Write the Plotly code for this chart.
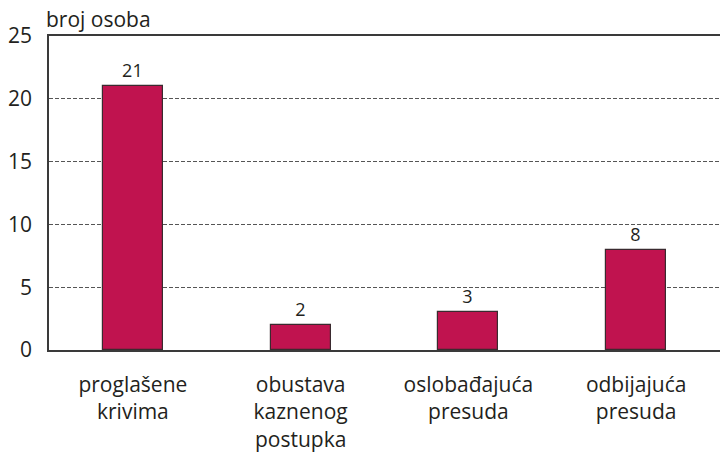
import plotly.graph_objects as go

categories = ["proglašene<br>krivima", "obustava<br>kaznenog<br>postupka", "oslobađajuća<br>presuda", "odbijajuća<br>presuda"]
values = [21, 2, 3, 8]
y_ticks = [0, 5, 10, 15, 20, 25]
y_title = "broj osoba"

FONT = "Open Sans"
TXT = "#231f20"
fig = go.Figure()
fig.add_trace(go.Bar(
    x=categories, y=values, width=0.357,
    marker=dict(color="#C0134F", line=dict(color="#3a2a2f", width=1.2)),
    text=[str(v) for v in values], textposition="outside",
    textfont=dict(family=FONT, size=18, color=TXT),
    cliponaxis=False,
))
fig.update_layout(
    width=720, height=455,
    margin=dict(l=49, r=0, t=36, b=105),
    plot_bgcolor="white", paper_bgcolor="white",
    showlegend=False,
    font=dict(family=FONT, color=TXT),
    bargap=0,
)
fig.update_xaxes(
    range=[-0.5, 3.5], showline=True, linecolor="#3a3a3a", linewidth=1.5, mirror=True,
    showgrid=False, ticks="", tickfont=dict(size=21, color=TXT),
    ticklabelstandoff=15,
)
fig.update_yaxes(
    range=[0, 25], tickvals=y_ticks, showline=True, linecolor="#3a3a3a", linewidth=1.5,
    showgrid=True, gridcolor="#555555", griddash="4px,2px", gridwidth=1,
    zeroline=False, ticks="", tickfont=dict(size=21, color=TXT),
    ticklabelstandoff=11,
)
fig.add_annotation(text=y_title, xref="paper", yref="paper", x=0, y=1,
                   xanchor="left", yanchor="bottom", xshift=-5, yshift=1, showarrow=False,
                   font=dict(family=FONT, size=21, color=TXT))
fig.write_html("out.html", config={"displayModeBar": False},
               post_script="document.body.style.margin='0';")
